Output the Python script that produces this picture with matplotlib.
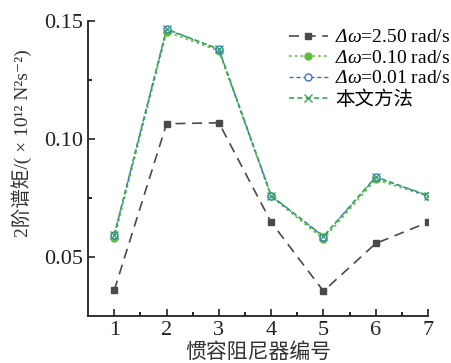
import matplotlib
matplotlib.use("Agg")
import matplotlib.pyplot as plt

plt.rcParams['font.family'] = ['Liberation Serif', 'Noto Sans CJK SC', 'DejaVu Serif']
plt.rcParams['mathtext.fontset'] = 'custom'
plt.rcParams['mathtext.rm'] = 'Liberation Serif'
plt.rcParams['mathtext.sf'] = 'Liberation Serif:italic'

# damper index and second-order spectral moments
damper = [1, 2, 3, 4, 5, 6, 7]
m_250 = [0.0360, 0.1065, 0.1069, 0.0648, 0.0356, 0.0558, 0.0648]
m_010 = [0.0580, 0.1455, 0.1374, 0.0757, 0.0577, 0.0829, 0.0758]
m_001 = [0.0595, 0.1465, 0.1380, 0.0760, 0.0587, 0.0838, 0.0760]
m_ours = [0.0595, 0.1466, 0.1381, 0.0761, 0.0588, 0.0840, 0.0761]

fig = plt.figure(figsize=(4.52, 3.63), dpi=100)
ax = fig.add_axes([0.195, 0.129, 0.752, 0.813])

dw = r'$\mathsf{Δω}$'
ax.plot(damper, m_250, color='#4a4a4a', ls=(0, (6, 4)), lw=1.2,
        marker='s', ms=5, label=dw + '=2.50 rad/s')
ax.plot(damper, m_010, color='#5cbf3a', ls=(0, (1.5, 2)), lw=1.2,
        marker='o', ms=5, label=dw + '=0.10 rad/s')
ax.plot(damper, m_001, color='#3b6fd0', ls=(0, (3, 2)), lw=1.0,
        marker='o', ms=5, mfc='white', label=dw + '=0.01 rad/s')
ax.plot(damper, m_ours, color='#3aaa55', ls=(0, (3, 2)), lw=1.2,
        marker='x', ms=6, label='本文方法')

ax.set_xlim(0.5, 7.0)
ax.set_ylim(0.025, 0.15)
ax.set_xticks(damper)
ax.set_xticks([1.5, 2.5, 3.5, 4.5, 5.5, 6.5], minor=True)
ax.set_yticks([0.05, 0.10, 0.15])
ax.set_yticks([0.075, 0.125], minor=True)
ax.set_yticklabels(['0.05', '0.10', '0.15'])
ax.tick_params(direction='in', labelsize=16, length=5, width=1.2, colors='#222222')
ax.tick_params(which='minor', direction='in', length=3, width=1.2)
for s in ['top', 'right']:
    ax.spines[s].set_visible(False)
for s in ['left', 'bottom']:
    ax.spines[s].set_linewidth(1.3)
    ax.spines[s].set_color('#222222')

ax.set_xlabel('惯容阻尼器编号', fontsize=15, color='#333333', labelpad=1,
              family=['Noto Sans CJK SC'])
ax.set_ylabel('2阶谱矩/( × 10¹² N²s⁻²)', fontsize=14, color='#333333')
ax.yaxis.set_label_coords(-0.165, 0.585)

ax.legend(loc='upper left', bbox_to_anchor=(0.55, 1.02), frameon=False, fontsize=14,
          handlelength=2.0, handletextpad=0.4, labelspacing=0.15, borderpad=0.2)

fig.savefig('out.png', dpi=100)
